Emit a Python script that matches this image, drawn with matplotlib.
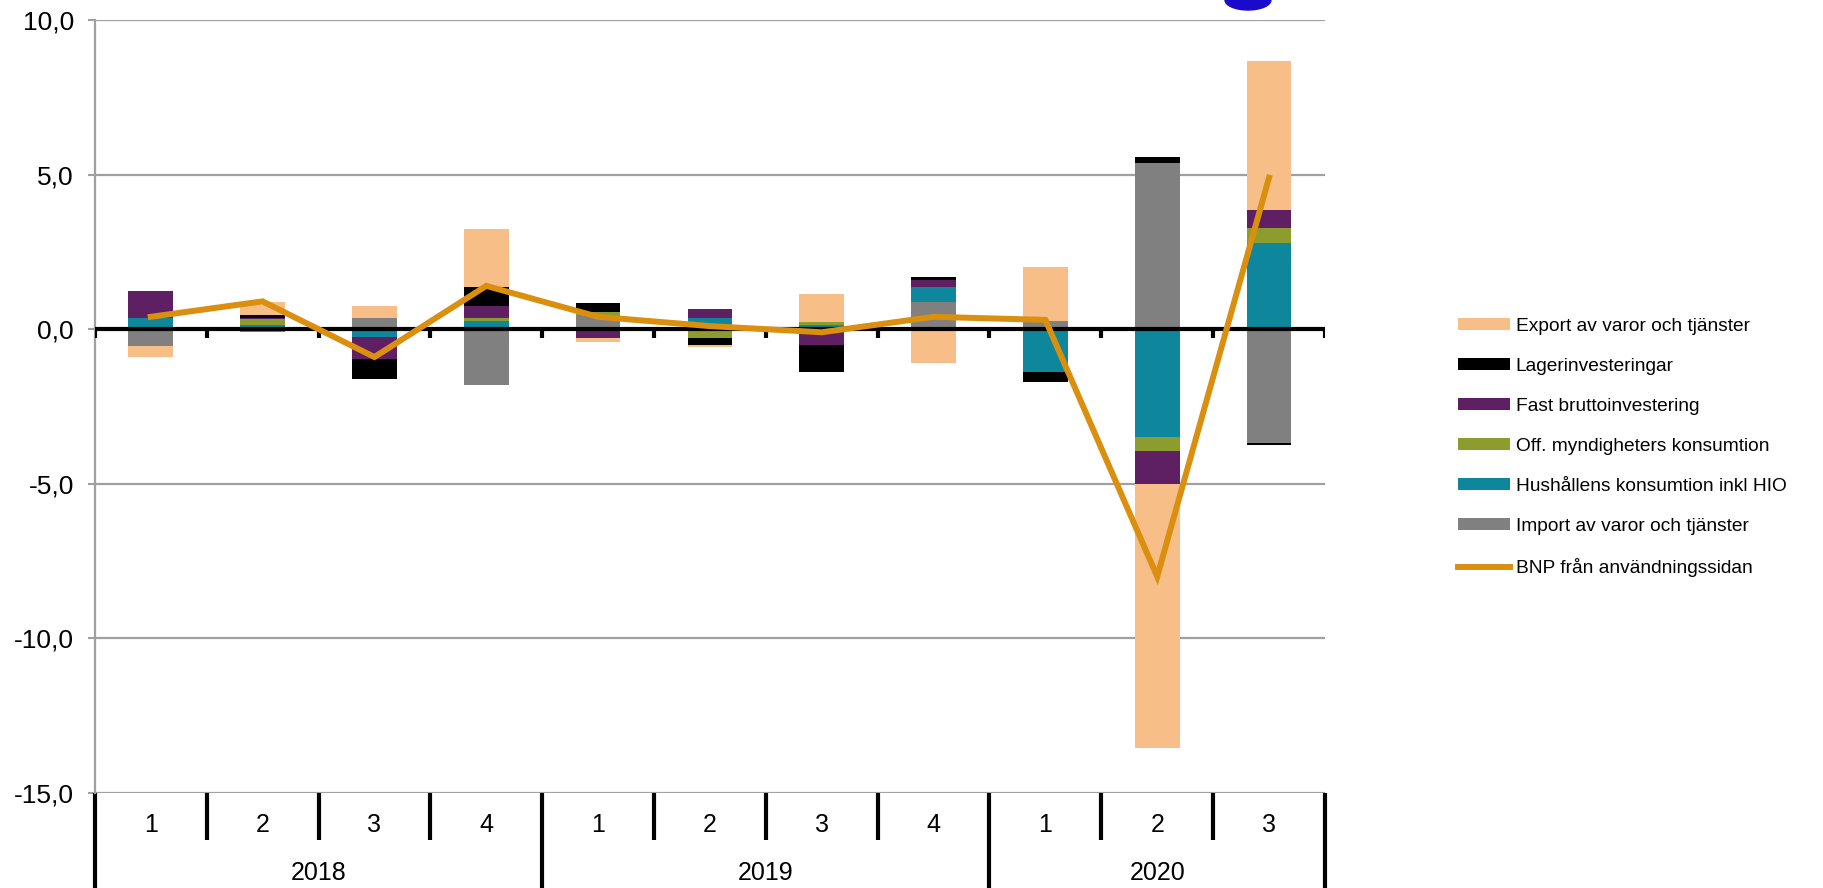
import numpy as np
import matplotlib.pyplot as plt
from matplotlib.patches import Ellipse
from matplotlib.ticker import FuncFormatter
from matplotlib.transforms import blended_transform_factory

plt.rcParams['font.family'] = ['Liberation Sans', 'DejaVu Sans']

# --- Data: contribution to GDP growth (percentage points) ---
years = ["2018", "2019", "2020"]
quarters = ["1", "2", "3", "4", "1", "2", "3", "4", "1", "2", "3"]

import_vt = [-0.55, -0.10, 0.35, -1.80, 0.45, 0.00, 0.00, 0.87, 0.27, 5.39, -3.67]
hushall = [0.35, 0.14, -0.25, 0.25, -0.02, 0.35, 0.14, 0.50, -1.40, -3.50, 2.78]
off_kons = [0.00, 0.20, 0.00, 0.10, 0.12, -0.30, 0.10, 0.00, 0.00, -0.45, 0.49]
fast_inv = [0.90, 0.02, -0.70, 0.40, -0.28, 0.29, -0.50, 0.22, 0.00, -1.05, 0.60]
lager = [0.00, 0.09, -0.65, 0.60, 0.28, -0.20, -0.90, 0.09, -0.30, 0.17, -0.09]
export_vt = [-0.35, 0.42, 0.41, 1.90, -0.10, -0.08, 0.90, -1.10, 1.73, -8.55, 4.80]
bnp = [0.4, 0.9, -0.9, 1.4, 0.4, 0.1, -0.1, 0.4, 0.3, -8.0, 4.9]

# stacking order from the axis outward
series = [
    ("Import av varor och tjänster", import_vt, "#808080"),
    ("Hushållens konsumtion inkl HIO", hushall, "#0E879C"),
    ("Off. myndigheters konsumtion", off_kons, "#8C9C2E"),
    ("Fast bruttoinvestering", fast_inv, "#5E1F63"),
    ("Lagerinvesteringar", lager, "#000000"),
    ("Export av varor och tjänster", export_vt, "#F7BF87"),
]

x = np.arange(len(quarters))
bredd = 0.4

fig = plt.figure(figsize=(18.24, 8.88), dpi=100)
ax = fig.add_axes([0.052, 0.107, 0.6744, 0.8705])

pos = np.zeros(len(x))
neg = np.zeros(len(x))
handles = {}
for namn, vals, farg in series:
    v = np.array(vals)
    bas = np.where(v >= 0, pos, neg)
    h = ax.bar(x, v, bredd, bottom=bas, color=farg, linewidth=0, zorder=3)
    handles[namn] = h
    pos = pos + np.where(v >= 0, v, 0)
    neg = neg + np.where(v < 0, v, 0)

linje, = ax.plot(x, bnp, color="#DA8F0F", lw=4.3, zorder=5,
                 solid_joinstyle="miter")

ax.set_xlim(-0.5, len(x) - 0.5)
ax.set_ylim(-15, 10)
ax.set_yticks([-15, -10, -5, 0, 5, 10])
ax.yaxis.set_major_formatter(FuncFormatter(lambda v, p: f"{v:.1f}".replace(".", ",")))
ax.tick_params(axis="y", labelsize=19, length=5, color="#A0A0A0", width=1.5, pad=10)
ax.set_xticks([])
ax.yaxis.grid(True, color="#A0A0A0", lw=1.6, zorder=0)
for s in ["top", "right", "bottom"]:
    ax.spines[s].set_visible(False)
ax.spines["left"].set_color("#A0A0A0")
ax.spines["left"].set_linewidth(1.6)

# zero line with category ticks
ax.axhline(0, color="black", lw=3, zorder=4)
gr = np.arange(len(x) + 1) - 0.5
ax.vlines(gr, -0.27, 0, color="black", lw=3, zorder=4)

# multi-level category axis below the plot
tr = blended_transform_factory(ax.transData, ax.transAxes)
for i, g in enumerate(gr):
    arsgrans = (i % 4 == 0) or i == len(gr) - 1
    ax.plot([g, g], [0, -0.123 if arsgrans else -0.061], color="black", lw=3,
            transform=tr, clip_on=False, solid_capstyle="butt")
for i, q in enumerate(quarters):
    ax.text(x[i], -0.041, q, transform=tr, ha="center", va="center", fontsize=18)
for j, ar in enumerate(years):
    lo = gr[j * 4]
    hi = gr[min(j * 4 + 4, len(gr) - 1)]
    ax.text((lo + hi) / 2, -0.104, ar, transform=tr, ha="center", va="center", fontsize=18)

# legend
ordning = ["Export av varor och tjänster", "Lagerinvesteringar", "Fast bruttoinvestering",
           "Off. myndigheters konsumtion", "Hushållens konsumtion inkl HIO",
           "Import av varor och tjänster"]
hl = [handles[n] for n in ordning] + [linje]
lab = ordning + ["BNP från användningssidan"]
fig.legend(hl, lab, loc="center left", bbox_to_anchor=(0.795, 0.496), frameon=False,
           fontsize=13.8, handlelength=2.75, handleheight=0.6, handletextpad=0.28,
           labelspacing=1.2, borderaxespad=0)

# logo fragment in the top corner
fig.patches.append(Ellipse((1248 / 1824, 1.0), 46 / 1824, 20 / 888, color="#1A0ACC",
                           transform=fig.transFigure, figure=fig))

fig.savefig("out.png", dpi=100)
